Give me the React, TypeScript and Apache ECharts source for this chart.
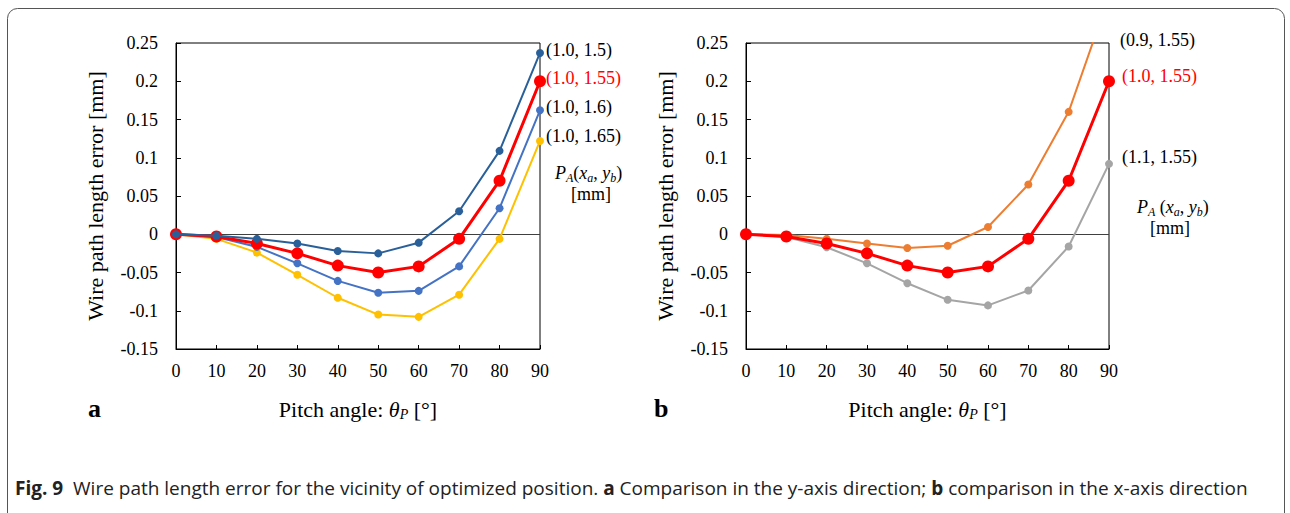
import React, { useEffect, useRef } from "react";
import * as echarts from "echarts";

const angles = [0, 10, 20, 30, 40, 50, 60, 70, 80, 90];

// (a) y-axis direction comparison
const a_10_150 = [0, -0.002, -0.006, -0.012, -0.022, -0.025, -0.011, 0.030, 0.109, 0.237];
const a_10_155 = [0, -0.003, -0.012, -0.025, -0.041, -0.050, -0.042, -0.006, 0.070, 0.200];
const a_10_160 = [0, -0.0035, -0.0165, -0.038, -0.061, -0.0765, -0.074, -0.042, 0.034, 0.162];
const a_10_165 = [0, -0.006, -0.024, -0.053, -0.083, -0.105, -0.108, -0.079, -0.006, 0.122];

// (b) x-axis direction comparison
const b_09_155 = [0, -0.001, -0.006, -0.012, -0.018, -0.015, 0.0095, 0.065, 0.160, 0.311];
const b_10_155 = [0, -0.003, -0.012, -0.025, -0.041, -0.050, -0.042, -0.006, 0.070, 0.200];
const b_11_155 = [0, -0.0035, -0.017, -0.038, -0.064, -0.0857, -0.093, -0.0735, -0.016, 0.092];

const yTicks = { min: -0.15, max: 0.25, interval: 0.05 };

const SERIF = "'Liberation Serif', 'Times New Roman', serif";
const SANS = "'Open Sans', sans-serif";

export default function App() {
  const ref = useRef<HTMLDivElement>(null);
  useEffect(() => {
    if (!ref.current) return;
    const chart = echarts.init(ref.current, null, { renderer: "svg" });

    const pts = (vals: number[]) => angles.map((a, i) => [a, vals[i]]);

    const thin = (name: string, vals: number[], color: string, gi: number, z: number) => ({
      name,
      type: "line",
      xAxisIndex: gi,
      yAxisIndex: gi,
      data: pts(vals),
      symbol: "circle",
      symbolSize: 8,
      z,
      lineStyle: { color, width: 2 },
      itemStyle: { color },
    });
    const thick = (name: string, vals: number[], gi: number, z: number) => ({
      name,
      type: "line",
      xAxisIndex: gi,
      yAxisIndex: gi,
      data: pts(vals),
      symbol: "circle",
      symbolSize: 12,
      z,
      lineStyle: { color: "#FF0000", width: 3 },
      itemStyle: { color: "#FF0000" },
      markLine: {
        silent: true,
        symbol: "none",
        label: { show: false },
        lineStyle: { color: "#404040", width: 1, type: "solid" },
        data: [{ yAxis: 0 }],
        z: 1,
      },
    });

    const xName = "Pitch angle: {i|θ}{s|P} [°]";
    const xNameStyle = {
      fontFamily: SERIF,
      fontSize: 22,
      color: "#000",
      rich: {
        i: { fontFamily: SERIF, fontStyle: "italic", fontSize: 22, color: "#000" },
        s: { fontFamily: SERIF, fontStyle: "italic", fontSize: 14, color: "#000", verticalAlign: "bottom", padding: [9, 0, 0, 0] },
      },
    };

    const xAxis = (gi: number) => ({
      gridIndex: gi,
      type: "value",
      min: 0,
      max: 90,
      interval: 10,
      axisLine: { onZero: false, lineStyle: { color: "#000", width: 1 } },
      axisTick: { show: true, inside: true, length: 4, lineStyle: { color: "#000" } },
      axisLabel: { fontFamily: SERIF, fontSize: 18, color: "#000", margin: 13 },
      splitLine: { show: false },
      name: xName,
      nameLocation: "middle",
      nameGap: 49,
      nameTextStyle: xNameStyle,
    });
    const yAxis = (gi: number) => ({
      gridIndex: gi,
      type: "value",
      min: yTicks.min,
      max: yTicks.max,
      interval: yTicks.interval,
      axisLine: { show: true, lineStyle: { color: "#000", width: 1 } },
      axisTick: { show: true, inside: true, length: 5, lineStyle: { color: "#000" } },
      axisLabel: {
        fontFamily: SERIF,
        fontSize: 18,
        color: "#000",
        margin: 18,
        formatter: (v: number) => String(Math.round(v * 100) / 100),
      },
      splitLine: { show: false },
      name: "Wire path length error [mm]",
      nameLocation: "middle",
      nameGap: 70,
      nameTextStyle: { fontFamily: SERIF, fontSize: 22, color: "#000" },
    });

    const lbl = (x: number, y: number, text: string, color = "#000") => ({
      type: "text",
      x,
      y,
      style: { text, fontFamily: SERIF, fontSize: 18, fill: color, verticalAlign: "middle" },
    });

    const paRich = {
      n: { fontFamily: SERIF, fontSize: 18, color: "#000", lineHeight: 22 },
      i: { fontFamily: SERIF, fontStyle: "italic", fontSize: 18, color: "#000", lineHeight: 22 },
      s: { fontFamily: SERIF, fontStyle: "italic", fontSize: 12, color: "#000", verticalAlign: "bottom", padding: [7, 0, 0, 0] },
    };
    const paText = (x: number, y: number, sp: string) => ({
      type: "text",
      x,
      y,
      style: {
        text: `{i|P}{s|A}{n|${sp}(}{i|x}{s|a}{n|, }{i|y}{s|b}{n|)}`,
        rich: paRich,
        verticalAlign: "middle",
      },
    });

    chart.setOption({
      animation: false,
      backgroundColor: "#fff",
      grid: [
        { left: 176, top: 43, width: 364, height: 306, show: true, borderColor: "#000", borderWidth: 1, backgroundColor: "transparent" },
        { left: 746, top: 43, width: 363, height: 306, show: true, borderColor: "#000", borderWidth: 1, backgroundColor: "transparent" },
      ],
      xAxis: [xAxis(0), xAxis(1)],
      yAxis: [yAxis(0), yAxis(1)],
      series: [
        thin("(1.0, 1.65)", a_10_165, "#FFC000", 0, 2),
        thin("(1.0, 1.6)", a_10_160, "#4472C4", 0, 3),
        thick("(1.0, 1.55)", a_10_155, 0, 4),
        thin("(1.0, 1.5)", a_10_150, "#2A6099", 0, 5),
        thin("(1.1, 1.55)", b_11_155, "#A5A5A5", 1, 2),
        thin("(0.9, 1.55)", b_09_155, "#ED7D31", 1, 3),
        thick("(1.0, 1.55) b", b_10_155, 1, 4),
      ],
      graphic: [
        {
          type: "rect",
          shape: { x: 7.5, y: 8.5, width: 1277, height: 540, r: 10 },
          style: { fill: "none", stroke: "#555", lineWidth: 1 },
          silent: true,
        },
        lbl(546, 50, "(1.0, 1.5)"),
        lbl(546, 78, "(1.0, 1.55)", "#FF0000"),
        lbl(546, 107, "(1.0, 1.6)"),
        lbl(546, 136, "(1.0, 1.65)"),
        paText(555, 173, ""),
        lbl(571, 194, "[mm]"),
        lbl(1120, 40, "(0.9, 1.55)"),
        lbl(1122, 76, "(1.0, 1.55)", "#FF0000"),
        lbl(1122, 157, "(1.1, 1.55)"),
        paText(1137, 207, " "),
        lbl(1150, 228, "[mm]"),
        {
          type: "text",
          x: 88,
          y: 408,
          style: { text: "a", fontFamily: SERIF, fontSize: 26, fontWeight: "bold", fill: "#000", verticalAlign: "middle" },
        },
        {
          type: "text",
          x: 654,
          y: 408,
          style: { text: "b", fontFamily: SERIF, fontSize: 26, fontWeight: "bold", fill: "#000", verticalAlign: "middle" },
        },
        {
          type: "text",
          x: 15,
          y: 488,
          style: {
            text: "{b|Fig. 9}  Wire path length error for the vicinity of optimized position. {b|a} Comparison in the y-axis direction; {b|b} comparison in the x-axis direction",
            fontFamily: SANS,
            fontSize: 19,
            fill: "#222",
            verticalAlign: "middle",
            rich: {
              b: { fontFamily: SANS, fontSize: 19, fontWeight: "bold", color: "#222" },
            },
          },
        },
      ],
    });
    return () => chart.dispose();
  }, []);
  return <div ref={ref} style={{ position: "fixed", left: 0, top: 0, width: 1290, height: 513 }} />;
}
